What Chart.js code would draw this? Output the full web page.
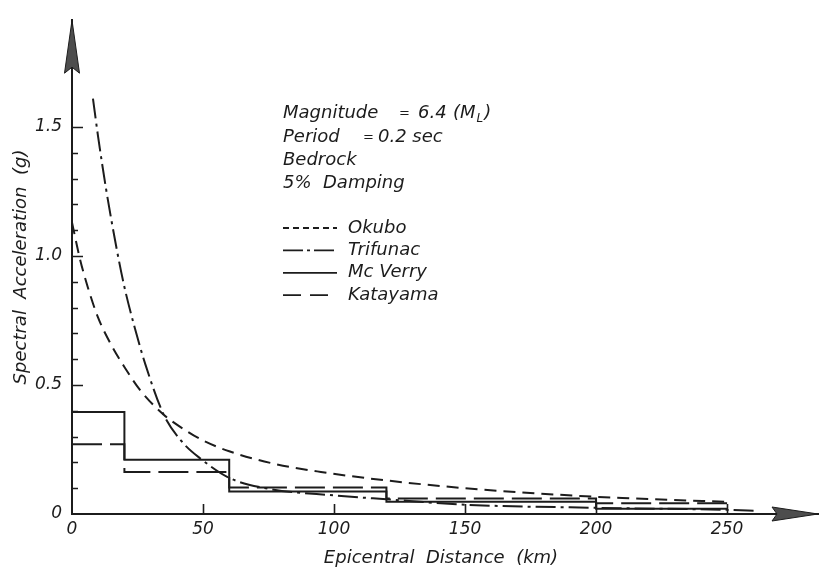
<!DOCTYPE html>
<html>
<head>
<meta charset="utf-8">
<script src="https://cdn.jsdelivr.net/npm/chart.js@4.4.0/dist/chart.umd.min.js"></script>
<style>
  html, body { margin: 0; padding: 0; background: #fff; }
  canvas { display: block; }
</style>
</head>
<body>
<canvas id="chart" width="819" height="568"></canvas>
<script>
// attenuation curves: epicentral distance (km) -> spectral acceleration (g)
const okuboKm = [0, 3, 6, 10, 15, 20, 26, 35, 44, 50, 60, 77, 95, 120, 150, 185, 210, 250];
const okuboG  = [1.13, 0.99, 0.88, 0.76, 0.655, 0.57, 0.48, 0.385, 0.32, 0.285, 0.243, 0.195, 0.163, 0.13, 0.10, 0.075, 0.062, 0.047];

const trifunacKm = [8, 10, 13, 17, 20, 24, 28, 35, 42, 49, 60, 75, 100, 120, 150, 200, 250, 262];
const trifunacG  = [1.61, 1.46, 1.26, 1.03, 0.88, 0.72, 0.58, 0.385, 0.28, 0.215, 0.14, 0.098, 0.072, 0.057, 0.036, 0.024, 0.016, 0.012];

// distance bins for the stepped models
const binKm     = [0, 20, 60, 120, 200, 250];
const mcverryG  = [0.395, 0.21, 0.087, 0.047, 0.02, 0.02];
const katayamaG = [0.27, 0.163, 0.103, 0.06, 0.042, 0.042];

// axis ticks
const xTickKm   = [0, 50, 100, 150, 200, 250];
const yMajorG   = [0, 0.5, 1.0, 1.5];
const yMinorMax = 1.5;

const INK = '#1c1c1c';
const FONT = '"DejaVu Sans", sans-serif';

const pts = (xs, ys) => xs.map((v, i) => ({ x: v, y: ys[i] }));
const isMajor = v => yMajorG.some(m => Math.abs(m - v) < 1e-6);

function arrowHead(ctx, tx, ty, dx, dy, len, half, notch) {
  const bx = tx - dx * len, by = ty - dy * len;
  const nx = -dy, ny = dx;
  ctx.beginPath();
  ctx.moveTo(tx, ty);
  ctx.lineTo(bx + nx * half, by + ny * half);
  ctx.lineTo(tx - dx * (len - notch), ty - dy * (len - notch));
  ctx.lineTo(bx - nx * half, by - ny * half);
  ctx.closePath();
  ctx.fill();
  ctx.stroke();
}

// tick marks inside the axes, arrowheads, titles, notes and key
const decor = {
  id: 'decor',
  afterDraw(chart) {
    const { ctx, chartArea: a, scales: { x, y } } = chart;
    ctx.save();
    ctx.strokeStyle = INK;
    ctx.lineWidth = 1.6;

    ctx.beginPath();
    y.ticks.forEach(t => {
      if (t.value <= 0) return;
      const py = Math.round(y.getPixelForValue(t.value)) + 0.5;
      const len = isMajor(t.value) ? 11 : 6;
      ctx.moveTo(a.left, py);
      ctx.lineTo(a.left + len, py);
    });
    x.ticks.forEach(t => {
      if (t.value <= 0) return;
      const px = Math.round(x.getPixelForValue(t.value)) + 0.5;
      ctx.moveTo(px, a.bottom);
      ctx.lineTo(px, a.bottom - 10);
    });
    ctx.stroke();

    ctx.fillStyle = '#4d4d4d';
    ctx.lineWidth = 1;
    arrowHead(ctx, a.left, a.top, 0, -1, 53, 7.5, 6);
    arrowHead(ctx, a.right, a.bottom, 1, 0, 46, 7, 5);

    ctx.fillStyle = INK;
    ctx.font = 'italic 18px ' + FONT;
    ctx.textBaseline = 'middle';
    ctx.textAlign = 'center';
    ctx.fillText('Epicentral  Distance  (km)', 441, 558);
    ctx.save();
    ctx.translate(21, 267);
    ctx.rotate(-Math.PI / 2);
    ctx.fillText('Spectral  Acceleration  (g)', 0, 0);
    ctx.restore();

    ctx.textAlign = 'left';
    const nx = 283;
    const eq = 'italic 13px ' + FONT;
    const txt = 'italic 18px ' + FONT;
    ctx.fillText('Magnitude', nx, 113);
    ctx.font = eq;
    ctx.fillText('=', 399, 114);
    ctx.font = txt;
    ctx.fillText('6.4', 418, 113);
    ctx.fillText('(M', 453, 113);
    let ex = 453 + ctx.measureText('(M').width;
    ctx.font = 'italic 12px ' + FONT;
    ctx.fillText('L', ex + 1, 119);
    ex += ctx.measureText('L').width + 2;
    ctx.font = txt;
    ctx.fillText(')', ex, 113);

    ctx.fillText('Period', nx, 137);
    ctx.font = eq;
    ctx.fillText('=', 363, 138);
    ctx.font = txt;
    ctx.fillText('0.2 sec', 378, 137);
    ctx.fillText('Bedrock', nx, 160);
    ctx.fillText('5%  Damping', nx, 183);

    chart.data.datasets.forEach((ds, i) => {
      const ly = 228 + i * 22.4;
      ctx.beginPath();
      ctx.setLineDash(ds.legendDash);
      ctx.lineWidth = 1.8;
      ctx.moveTo(nx, ly);
      ctx.lineTo(nx + 54, ly);
      ctx.stroke();
      ctx.setLineDash([]);
      ctx.fillText(ds.label, 348, ly);
    });
    ctx.restore();
  }
};

const lineBase = {
  borderColor: INK,
  borderWidth: 2,
  pointRadius: 0,
  fill: false
};

new Chart(document.getElementById('chart'), {
  type: 'line',
  data: {
    datasets: [
      { ...lineBase, label: 'Okubo', data: pts(okuboKm, okuboG),
        borderDash: [12, 7], legendDash: [6, 4], cubicInterpolationMode: 'monotone' },
      { ...lineBase, label: 'Trifunac', data: pts(trifunacKm, trifunacG),
        borderDash: [20, 5, 3, 5], legendDash: [20, 4, 3, 4], cubicInterpolationMode: 'monotone' },
      { ...lineBase, label: 'Mc Verry', data: pts(binKm, mcverryG),
        stepped: 'before', legendDash: [] },
      { ...lineBase, label: 'Katayama', data: pts(binKm, katayamaG),
        stepped: 'before', borderDash: [30, 8], legendDash: [18, 9] }
    ]
  },
  options: {
    responsive: false,
    animation: false,
    layout: { padding: { top: 10, right: 1, left: 0, bottom: 0 } },
    plugins: { legend: { display: false }, tooltip: { enabled: false } },
    scales: {
      x: {
        type: 'linear',
        min: 0,
        max: 284.7,
        afterBuildTicks: s => { s.ticks = s.ticks.filter(t => xTickKm.includes(t.value)); },
        afterFit: s => { s.height = 54; },
        grid: { display: false, drawTicks: false },
        border: { display: true, color: INK, width: 2 },
        ticks: {
          stepSize: 50,
          padding: 5,
          color: INK,
          maxRotation: 0,
          font: { family: FONT, size: 17, style: 'italic' }
        }
      },
      y: {
        type: 'linear',
        min: 0,
        max: 1.914,
        afterBuildTicks: s => { s.ticks = s.ticks.filter(t => t.value <= yMinorMax + 1e-6); },
        afterFit: s => { s.width = 72; },
        grid: { display: false, drawTicks: false },
        border: { display: true, color: INK, width: 2 },
        ticks: {
          stepSize: 0.1,
          padding: 10,
          color: INK,
          font: { family: FONT, size: 17, style: 'italic' },
          callback: v => isMajor(v) ? (Math.abs(v) < 1e-6 ? '0' : v.toFixed(1)) : ''
        }
      }
    }
  },
  plugins: [decor]
});
</script>
</body>
</html>
